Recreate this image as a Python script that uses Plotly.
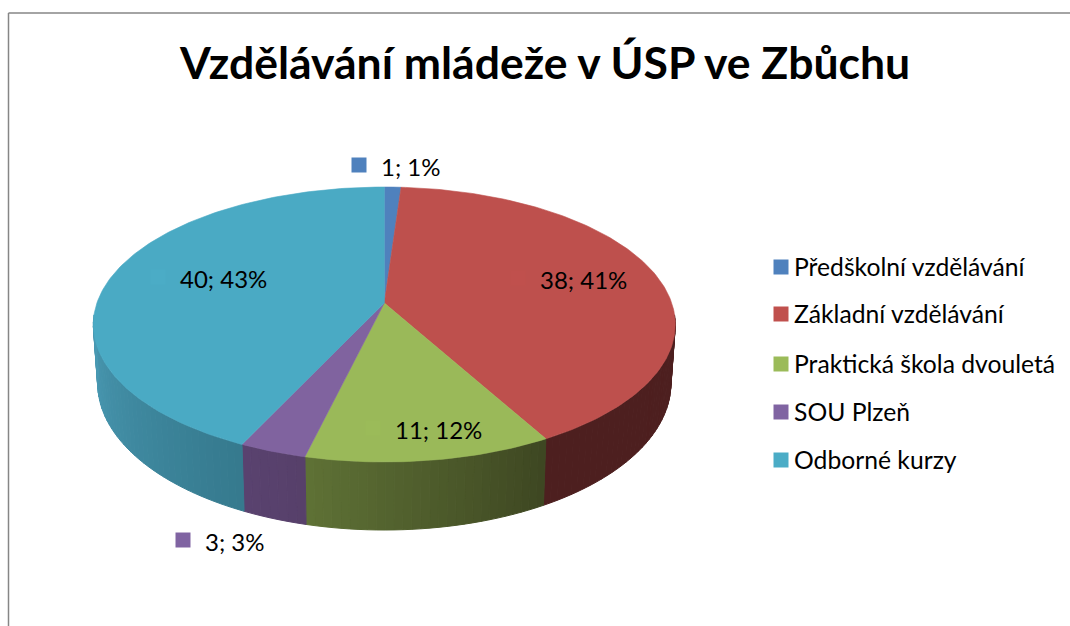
import numpy as np
import plotly.graph_objects as go

title = "Vzdělávání mládeže v ÚSP ve Zbůchu"
categories = ["Předškolní vzdělávání", "Základní vzdělávání", "Praktická škola dvouletá", "SOU Plzeň", "Odborné kurzy"]
values = [1, 38, 11, 3, 40]

colors = ["#4F81BD", "#C0504D", "#9BBB59", "#8064A2", "#4BACC6"]
faces = ["#4F81BD", "#BE504D", "#9AB959", "#80639F", "#4AAAC4"]
side_a = ["#31507A", "#4D1F1F", "#3E4722", "#57406A", "#367A8E"]
side_b = ["#31507A", "#4D1F1F", "#5F7236", "#5A4370", "#4A9BB5"]

# pixel-space axes, perspective of the disc
CX, CY, A, B, K = 384.3, 303.0, 287.4, 134.1, 0.1564
DEPTH, SHRINK = 57.4, 0.985
label_pos = [(379, 166), (538, 279), (393, 429), (203, 541), (178, 278)]
legend_y = [266, 313, 363, 411, 459]


def top(t):
    w = 1 + K * np.cos(t)
    return CX + A * np.sin(t) / w, CY - B * np.cos(t) / w


def bottom(t):
    w = 1 + K * np.cos(t)
    x, y = top(t)
    return CX + SHRINK * (x - CX), y + DEPTH / w


def rgb(h):
    return np.array([int(h[i:i + 2], 16) for i in (1, 3, 5)], float)


total = sum(values)
edges = np.radians(np.concatenate([[0], np.cumsum(values)]) * 360 / total)
fig = go.Figure()

# side wall, back of the visible band first
vis0, vis1 = np.radians(95), np.radians(265)
for i in range(len(values)):
    a0, a1 = max(edges[i], vis0), min(edges[i + 1], vis1)
    if a1 <= a0:
        continue
    n = max(2, int(np.degrees(a1 - a0) / 1.5))
    cuts = np.linspace(a0, a1, n + 1)
    for j in range(n):
        frac = (j + 0.5) / n
        c = rgb(side_a[i]) * (1 - frac) + rgb(side_b[i]) * frac
        col = "rgb(%d,%d,%d)" % tuple(c)
        ts = np.linspace(cuts[j], cuts[j + 1], 4)
        xt, yt = top(ts)
        xb, yb = bottom(ts[::-1])
        fig.add_trace(go.Scatter(x=np.r_[xt, xb, xt[0]], y=np.r_[yt, yb, yt[0]], mode="lines", fill="toself",
                                 fillcolor=col, line=dict(color=col, width=1), hoverinfo="skip", showlegend=False))

# top face
for i in range(len(values)):
    ts = np.linspace(edges[i], edges[i + 1], max(3, int(np.degrees(edges[i + 1] - edges[i]))))
    xt, yt = top(ts)
    fig.add_trace(go.Scatter(x=np.r_[CX, xt, CX], y=np.r_[CY, yt, CY], mode="lines", fill="toself",
                             fillcolor=faces[i], line=dict(color=faces[i], width=0.6),
                             name=categories[i], hoverinfo="name", showlegend=False))

# data labels with their keys
FONT = "Lato, Carlito, Calibri, sans-serif"
for i, (lx, ly) in enumerate(label_pos):
    pct = round(values[i] / total * 100)
    fig.add_trace(go.Scatter(x=[lx - 20], y=[ly - 1], mode="markers",
                             marker=dict(symbol="square", size=15, color=colors[i]),
                             hoverinfo="skip", showlegend=False))
    fig.add_annotation(x=lx, y=ly, text=f"{values[i]}; {pct}%", showarrow=False, xanchor="left", yanchor="middle",
                       font=dict(family=FONT, size=24, color="#000000"))

# legend
for i, name in enumerate(categories):
    fig.add_trace(go.Scatter(x=[781], y=[legend_y[i] + 1], mode="markers",
                             marker=dict(symbol="square", size=15, color=colors[i]),
                             hoverinfo="skip", showlegend=False))
    fig.add_annotation(x=792, y=legend_y[i], text=name, showarrow=False, xanchor="left", yanchor="middle",
                       font=dict(family=FONT, size=24.7, color="#000000"))

fig.add_annotation(x=544, y=61, text=f"<b>{title}</b>", showarrow=False, xanchor="center", yanchor="middle",
                   font=dict(family=FONT, size=44.5, color="#000000"))

border = dict(color="#868686", width=1.5)
fig.add_shape(type="line", x0=8.5, y0=13, x1=1070, y1=13, line=border)
fig.add_shape(type="line", x0=8.5, y0=13, x1=8.5, y1=626, line=border)

fig.update_layout(width=1070, height=626, margin=dict(l=0, r=0, t=0, b=0), paper_bgcolor="white", plot_bgcolor="white",
                  xaxis=dict(range=[0, 1070], visible=False, fixedrange=True),
                  yaxis=dict(range=[626, 0], visible=False, fixedrange=True))
fig.write_html("out.html", config=dict(displayModeBar=False),
               post_script="document.body.style.margin='0';document.body.style.overflow='hidden';")
